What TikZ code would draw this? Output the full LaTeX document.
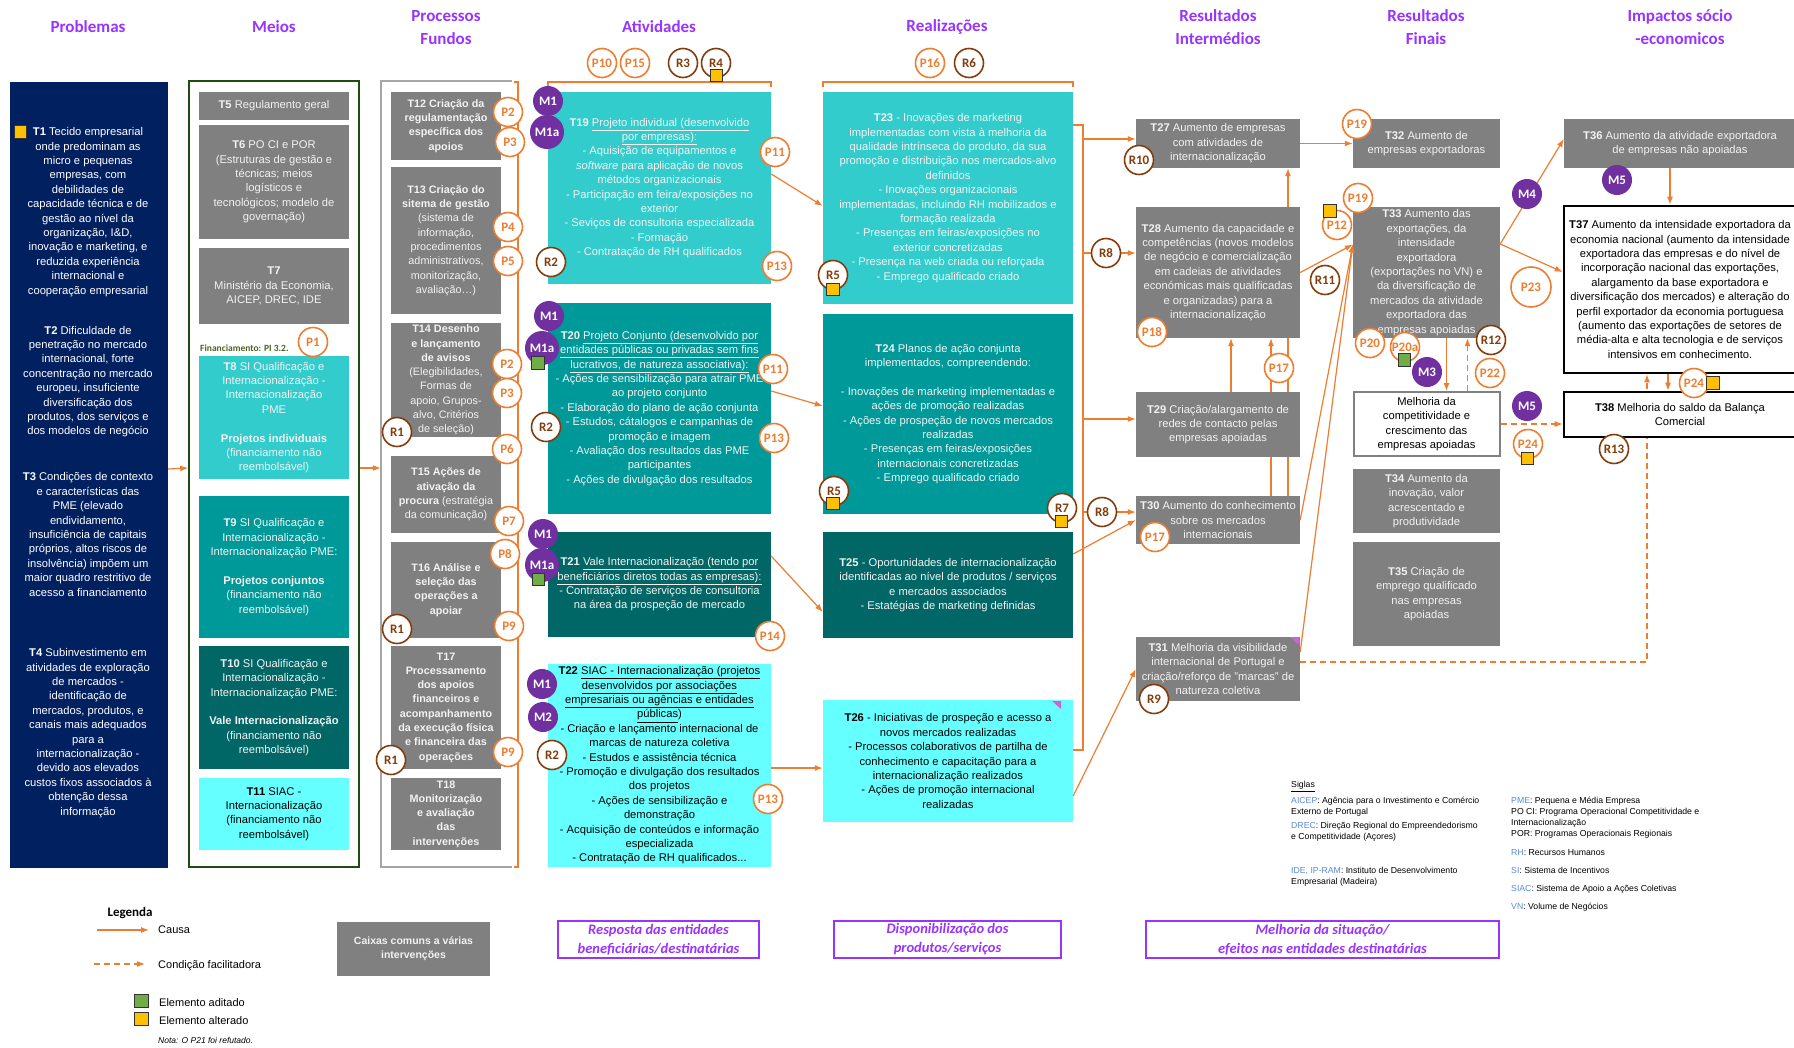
\documentclass[tikz,border=0pt]{standalone}
\usepackage{fontspec}
\setmainfont{Liberation Sans}
\newfontfamily\calib{Carlito}
\usetikzlibrary{arrows.meta}
\pgfdeclarelayer{bg}
\pgfsetlayers{bg,main}

\definecolor{navy}{HTML}{002060}
\definecolor{boxgray}{HTML}{808080}
\definecolor{boxtext}{HTML}{F2F2F2}
\definecolor{tealA}{HTML}{33CCCC}
\definecolor{tealB}{HTML}{009999}
\definecolor{tealC}{HTML}{006666}
\definecolor{cyanD}{HTML}{66FFFF}
\definecolor{orng}{HTML}{ED7D31}
\definecolor{brwn}{HTML}{843C0C}
\definecolor{purp}{HTML}{7030A0}
\definecolor{violet9}{HTML}{9933FF}
\definecolor{yel}{HTML}{FFC000}
\definecolor{grn}{HTML}{70AD47}
\definecolor{frameg}{HTML}{1E4D14}
\definecolor{frameq}{HTML}{A6A6A6}
\definecolor{fingreen}{HTML}{4F6228}
\definecolor{sigblue}{HTML}{5B8BD9}
\definecolor{cmark}{HTML}{CC66CC}

\tikzset{
  hdr/.style={text=violet9,font=\calib\bfseries\fontsize{17}{23}\selectfont,align=center,inner sep=0pt},
  tbox/.style={inner sep=0pt,align=center,font=\fontsize{11.2}{14.4}\selectfont},
  graybox/.style={tbox,fill=boxgray,text=boxtext},
  procbox/.style={graybox,font=\bfseries\fontsize{10.8}{14.3}\selectfont},
  boxA/.style={tbox,fill=tealA,text=boxtext},
  boxB/.style={tbox,fill=tealB,text=boxtext},
  boxC/.style={tbox,fill=tealC,text=boxtext},
  boxD/.style={tbox,fill=cyanD,text=black},
  impbox/.style={tbox,draw=black,line width=2.6pt,fill=white,text=black},
  pc/.style={circle,draw=orng,line width=1.6pt,fill=white,text=orng,
    font=\calib\bfseries\fontsize{13}{13}\selectfont,minimum size=29pt,inner sep=0pt},
  rc/.style={pc,draw=brwn,text=brwn},
  mc/.style={circle,fill=purp,text=white,font=\calib\bfseries\fontsize{13}{13}\selectfont,
    minimum size=30pt,inner sep=0pt},
  mca/.style={mc,minimum size=34pt},
  altsq/.style={draw=black!80,line width=0.8pt,fill=yel,minimum size=12.5pt,inner sep=0pt},
  addsq/.style={altsq,fill=grn},
  causa/.style={draw=orng,line width=1.2pt,-{Latex[length=8pt,width=6pt]}},
  cond/.style={causa,dash pattern=on 6pt off 4pt},
  bline/.style={draw=orng,line width=2pt},
  goal/.style={draw=violet9,line width=2pt,inner sep=0pt,text=violet9,align=center,
    font=\calib\bfseries\itshape\fontsize{14.5}{19}\selectfont},
  sigla/.style={inner sep=0pt,align=left,anchor=north west,font=\fontsize{8.7}{11}\selectfont},
  legtext/.style={anchor=west,inner sep=0pt,font=\fontsize{11}{13}\selectfont}
}

\begin{document}
\begin{tikzpicture}[x=1pt,y=-1pt]
\useasboundingbox (0,0) rectangle (1794,1047);

\node[hdr] (hprob) at (88,27) {Problemas};
\node[hdr] (hmeios) at (274,27) {Meios};
\node[hdr] (hproc) at (446,27.5) {Processos\\Fundos};
\node[hdr] (hativ) at (659,27) {Atividades};
\node[hdr] (hreal) at (947,27) {Realizações};
\node[hdr] (hri) at (1218,27.5) {Resultados\\Intermédios};
\node[hdr] (hrf) at (1426,27.5) {Resultados\\Finais};
\node[hdr] (himp) at (1680,27.5) {Impactos sócio\\-economicos};

\node[fill=navy,inner sep=0pt,minimum width=158pt,minimum height=786pt] (prob) at (89,475) {};
\node[tbox,text=white] (t1) at (88,212) {\textbf{T1} Tecido empresarial\\onde predominam as\\micro e pequenas\\empresas, com\\debilidades de\\capacidade técnica e de\\gestão ao nível da\\organização, I\&D,\\inovação e marketing, e\\reduzida experiência\\internacional e\\cooperação empresarial};
\node[tbox,text=white] (t2) at (88,381.5) {\textbf{T2} Dificuldade de\\penetração no mercado\\internacional, forte\\concentração no mercado\\europeu, insuficiente\\diversificação dos\\produtos, dos serviços e\\dos modelos de negócio};
\node[tbox,text=white] (t3) at (88,534.5) {\textbf{T3} Condições de contexto\\e características das\\PME (elevado\\endividamento,\\insuficiência de capitais\\próprios, altos riscos de\\insolvência) impõem um\\maior quadro restritivo de\\acesso a financiamento};
\node[tbox,text=white] (t4) at (88,733) {\textbf{T4} Subinvestimento em\\atividades de exploração\\de mercados -\\identificação de\\mercados, produtos, e\\canais mais adequados\\para a\\internacionalização -\\devido aos elevados\\custos fixos associados à\\obtenção dessa\\informação};

\node[draw=frameg,line width=1.5pt,fill=white,inner sep=0pt,minimum width=170pt,minimum height=786pt] (meios) at (274,474) {};
\node[graybox,minimum width=150pt,minimum height=28pt] (t5) at (274,106) {\textbf{T5} Regulamento geral};
\node[graybox,minimum width=150pt,minimum height=114pt] (t6) at (274,182) {\textbf{T6} PO CI e POR\\(Estruturas de gestão e\\técnicas; meios\\logísticos e\\tecnológicos; modelo de\\governação)};
\node[graybox,minimum width=150pt,minimum height=76pt] (t7) at (274,286) {\textbf{T7}\\Ministério da Economia,\\AICEP, DREC, IDE};
\node[anchor=west,inner sep=0pt,text=fingreen,font=\calib\bfseries\fontsize{9.5}{10}\selectfont] (fin) at (200,348) {Financiamento: PI 3.2.};
\node[boxA,minimum width=150pt,minimum height=123pt] (t8) at (274,417.5) {\textbf{T8} SI Qualificação e\\Internacionalização -\\Internacionalização\\PME\\[14.4pt]\textbf{Projetos individuais}\\(financiamento não\\reembolsável)};
\node[boxB,minimum width=150pt,minimum height=142pt] (t9) at (274,567) {\textbf{T9} SI Qualificação e\\Internacionalização -\\Internacionalização PME:\\[14.4pt]\textbf{Projetos conjuntos}\\(financiamento não\\reembolsável)};
\node[boxC,minimum width=150pt,minimum height=123pt] (t10) at (274,707.5) {\textbf{T10} SI Qualificação e\\Internacionalização -\\Internacionalização PME:\\[14.4pt]\textbf{Vale Internacionalização}\\(financiamento não\\reembolsável)};
\node[boxD,minimum width=150pt,minimum height=72pt] (t11) at (274,814) {\textbf{T11} SIAC -\\Internacionalização\\(financiamento não\\reembolsável)};

\node[inner sep=0pt,minimum width=131pt,minimum height=786pt] (proc) at (446.5,474) {};
\draw[draw=frameq,line width=1.5pt] (proc.north east) -- (proc.north west) -- (proc.south west) -- (proc.south east);
\draw[bline] (514,82) -- (518,82) -- (518,867) -- (514,867);
\node[procbox,minimum width=110pt,minimum height=68pt] (t12) at (446,126) {T12 Criação da\\regulamentação\\específica dos\\apoios};
\node[procbox,minimum width=110pt,minimum height=147pt] (t13) at (446,240.5) {T13 Criação do\\sitema de gestão\\\mdseries(sistema de\\\mdseries informação,\\\mdseries procedimentos\\\mdseries administrativos,\\\mdseries monitorização,\\\mdseries avaliação…)};
\node[procbox,minimum width=110pt,minimum height=114pt] (t14) at (446,380) {T14 Desenho\\e lançamento\\de avisos\\\mdseries(Elegibilidades,\\\mdseries Formas de\\\mdseries apoio, Grupos-\\\mdseries alvo, Critérios\\\mdseries de seleção)};
\node[procbox,minimum width=110pt,minimum height=77pt] (t15) at (446,494.5) {T15 Ações de\\ativação da\\procura \mdseries(estratégia\\\mdseries da comunicação)};
\node[procbox,minimum width=110pt,minimum height=96pt] (t16) at (446,590) {T16 Análise e\\seleção das\\operações a\\apoiar};
\node[procbox,minimum width=110pt,minimum height=123pt] (t17) at (446,707.5) {T17\\Processamento\\dos apoios\\financeiros e\\acompanhamento\\da execução física\\e financeira das\\operações};
\node[procbox,minimum width=110pt,minimum height=72pt] (t18) at (446,814) {T18\\Monitorização\\e avaliação\\das\\intervenções};

\draw[bline] (548,87) -- (548,82) -- (771,82) -- (771,87);
\node[boxA,minimum width=223pt,minimum height=192pt] (t19) at (659.5,188) {\textbf{T19} \underline{Projeto individual (desenvolvido}\\\underline{por empresas):}\\- Aquisição de equipamentos e\\\textit{software} para aplicação de novos\\métodos organizacionais\\- Participação em feira/exposições no\\exterior\\- Seviços de consultoria especializada\\- Formação\\- Contratação de RH qualificados};
\node[boxB,minimum width=223pt,minimum height=211pt] (t20) at (659.5,408.5) {\textbf{T20} \underline{Projeto Conjunto (desenvolvido por}\\\underline{entidades públicas ou privadas sem fins}\\\underline{lucrativos, de natureza associativa):}\\- Ações de sensibilização para atrair PME\\ao projeto conjunto\\- Elaboração do plano de ação conjunta\\- Estudos, cátalogos e campanhas de\\promoção e imagem\\- Avaliação dos resultados das PME\\participantes\\- Ações de divulgação dos resultados};
\node[boxC,minimum width=223pt,minimum height=105pt] (t21) at (659.5,584.5) {\textbf{T21} \underline{Vale Internacionalização (tendo por}\\\underline{beneficiários diretos todas as empresas):}\\- Contratação de serviços de consultoria\\na área da prospeção de mercado};
\node[boxD,minimum width=223pt,minimum height=203pt] (t22) at (659.5,765.5) {\textbf{T22} \underline{SIAC - Internacionalização (projetos}\\\underline{desenvolvidos por associações}\\\underline{empresariais ou agências e entidades}\\\underline{públicas})\\- Criação e lançamento internacional de\\marcas de natureza coletiva\\- Estudos e assistência técnica\\- Promoção e divulgação dos resultados\\dos projetos\\- Ações de sensibilização e\\demonstração\\- Acquisição de conteúdos e informação\\especializada\\- Contratação de RH qualificados...};

\draw[bline] (823,87) -- (823,82) -- (1073,82) -- (1073,87);
\node[boxA,minimum width=250pt,minimum height=212pt] (t23) at (948,198) {\textbf{T23} - Inovações de marketing\\implementadas com vista à melhoria da\\qualidade intrínseca do produto, da sua\\promoção e distribuição nos mercados-alvo\\definidos\\- Inovações organizacionais\\implementadas, incluindo RH mobilizados e\\formação realizada\\- Presenças em feiras/exposições no\\exterior concretizadas\\- Presença na web criada ou reforçada\\- Emprego qualificado criado};
\node[boxB,minimum width=250pt,minimum height=200pt] (t24) at (948,414) {\textbf{T24} Planos de ação conjunta\\implementados, compreendendo:\\[14.4pt]- Inovações de marketing implementadas e\\ações de promoção realizadas\\- Ações de prospeção de novos mercados\\realizadas\\- Presenças em feiras/exposições\\internacionais concretizadas\\- Emprego qualificado criado};
\node[boxC,minimum width=250pt,minimum height=106pt] (t25) at (948,585) {\textbf{T25} - Oportunidades de internacionalização\\identificadas ao nível de produtos / serviços\\e mercados associados\\- Estatégias de marketing definidas};
\node[boxD,minimum width=250pt,minimum height=122pt] (t26) at (948,761) {\textbf{T26} - Iniciativas de prospeção e acesso a\\novos mercados realizadas\\- Processos colaborativos de partilha de\\conhecimento e capacitação para a\\internacionalização realizados\\- Ações de promoção internacional\\realizadas};
\fill[cmark] (1052,701) -- (1061,701) -- (1061,709) -- cycle;
\draw[bline] (1073,125) -- (1083,125) -- (1083,750) -- (1073,750);
\coordinate (rbr) at (1083,125);

\node[graybox,minimum width=164pt,minimum height=49pt] (t27) at (1218,143.5) {\textbf{T27} Aumento de empresas\\com atividades de\\internacionalização};
\node[graybox,minimum width=164pt,minimum height=131pt] (t28) at (1218,272.5) {\textbf{T28} Aumento da capacidade e\\competências (novos modelos\\de negócio e comercialização\\em cadeias de atividades\\económicas mais qualificadas\\e organizadas) para a\\internacionalização};
\node[graybox,minimum width=164pt,minimum height=65pt] (t29) at (1218,424.5) {\textbf{T29} Criação/alargamento de\\redes de contacto pelas\\empresas apoiadas};
\node[graybox,minimum width=164pt,minimum height=48pt] (t30) at (1218,520) {\textbf{T30} Aumento do conhecimento\\sobre os mercados\\internacionais};
\node[graybox,minimum width=164pt,minimum height=64pt] (t31) at (1218,669) {\textbf{T31} Melhoria da visibilidade\\internacional de Portugal e\\criação/reforço de "marcas" de\\natureza coletiva};
\fill[cmark] (1290,637) -- (1299,637) -- (1299,645) -- cycle;

\node[graybox,minimum width=147pt,minimum height=49pt] (t32) at (1426.5,143.5) {\textbf{T32} Aumento de\\empresas exportadoras};
\node[graybox,minimum width=147pt,minimum height=131pt] (t33) at (1426.5,272.5) {\textbf{T33} Aumento das\\exportações, da\\intensidade\\exportadora\\(exportações no VN) e\\da diversificação de\\mercados da atividade\\exportadora das\\empresas apoiadas};
\node[tbox,draw=boxgray,line width=2pt,fill=white,text=black,minimum width=146pt,minimum height=64pt] (melh) at (1426.5,424) {Melhoria da\\competitividade e\\crescimento das\\empresas apoiadas};
\node[graybox,minimum width=147pt,minimum height=64pt] (t34) at (1426.5,501) {\textbf{T34} Aumento da\\inovação, valor\\acrescentado e\\produtividade};
\node[graybox,minimum width=147pt,minimum height=104pt] (t35) at (1426.5,594) {\textbf{T35} Criação de\\emprego qualificado\\nas empresas\\apoiadas};

\node[graybox,minimum width=232pt,minimum height=49pt] (t36) at (1680,143.5) {\textbf{T36} Aumento da atividade exportadora\\de empresas não apoiadas};
\node[impbox,minimum width=232pt,minimum height=167pt] (t37) at (1680,289.5) {\textbf{T37} Aumento da intensidade exportadora da\\economia nacional (aumento da intensidade\\exportadora das empresas e do nível de\\incorporação nacional das exportações,\\alargamento da base exportadora e\\diversificação dos mercados) e alteração do\\perfil exportador da economia portuguesa\\(aumento das exportações de setores de\\média-alta e alta tecnologia e de serviços\\intensivos em conhecimento.};
\node[impbox,minimum width=232pt,minimum height=45pt] (t38) at (1680,414.5) {\textbf{T38} Melhoria do saldo da Balança\\Comercial};

\draw[causa] ([yshift=6pt]prob.east) -- ([yshift=6pt]meios.west);
\draw[causa] ([yshift=6pt]meios.east) -- ([yshift=6pt]proc.west);
\draw[causa] ([yshift=14pt]t19.east) -- ([yshift=-8pt]t23.west);
\draw[causa] ([yshift=17.5pt]t20.east) -- ([yshift=8pt]t24.west);
\draw[causa] ([yshift=28.5pt]t21.east) -- ([yshift=-27pt]t25.west);
\draw[causa] ([yshift=-2.5pt]t22.east) -- ([yshift=-7pt]t26.west);
\coordinate (a27) at ([yshift=4.5pt]t27.west);
\coordinate (a28) at ([yshift=19.5pt]t28.west);
\coordinate (a29) at ([yshift=5.5pt]t29.west);
\coordinate (a30) at ([yshift=8pt]t30.west);
\draw[causa] (rbr |- a27) -- (a27);
\draw[causa] (rbr |- a28) -- (a28);
\draw[causa] (rbr |- a29) -- (a29);
\draw[causa] (rbr |- a30) -- (a30);
\draw[causa] ([yshift=31pt]t25.east) -- (t30.west);
\draw[causa] ([yshift=-35pt]t26.east) -- (t31.west);
\coordinate (c33) at ([yshift=28pt]t33.west);
\coordinate (e33) at ([yshift=28.5pt]t33.east);
\draw[causa] (t27.east) -- (t32.west);
\draw[causa] (t28.east) -- (c33);
\draw[causa] (t30.east) -- (c33);
\draw[causa] ([yshift=17pt]t31.east) -- (c33);
\draw[causa] (e33) -- ([yshift=4.5pt]t36.west);
\draw[causa] (e33) -- ([yshift=17.5pt]t37.west);
\draw[causa] ([xshift=-10pt]t36.south) -- ([xshift=-10pt]t37.north);
\draw[causa] ([xshift=-12pt]t37.south) -- ([xshift=-12pt]t38.north);
\draw[causa] ([xshift=20pt]t33.south) -- ([xshift=20pt]melh.north);
\draw[cond] ([xshift=41pt]melh.north) -- ([xshift=41pt]t33.south);
\draw[cond] (melh.east) -- (t38.west |- melh.east);
\begin{pgfonlayer}{bg}
\fill[white] (0,0) rectangle (1794,1047);
\draw[causa] ([xshift=70pt]t30.north) -- ([xshift=70pt]t27.south);
\draw[causa] ([xshift=53pt]t30.north) -- ([xshift=53pt]t28.south);
\draw[causa] ([xshift=13pt]t29.north) -- ([xshift=13pt]t28.south);
\draw[cond] ([yshift=7pt]t31.east) -| ([xshift=-33pt]t37.south);
\end{pgfonlayer}

\node[altsq] (s1) at (20.5,132) {};
\node[pc] (p1) at (313,342) {P1};
\node[pc] (p2a) at (508,112) {P2};
\node[pc] (p3a) at (510,142) {P3};
\node[pc] (p4) at (508,227) {P4};
\node[pc] (p5) at (508,261) {P5};
\node[pc] (p2b) at (507,364) {P2};
\node[pc] (p3b) at (507,393) {P3};
\node[pc] (p6) at (507,449) {P6};
\node[pc] (p7) at (509,521) {P7};
\node[pc] (p8) at (505,554) {P8};
\node[pc] (p9a) at (509,626) {P9};
\node[pc] (p9b) at (508,752) {P9};
\node[rc] (r1a) at (397,432) {R1};
\node[rc] (r1b) at (397,629) {R1};
\node[rc] (r1c) at (391,760) {R1};
\node[pc] (p10) at (602,63) {P10};
\node[pc] (p15) at (635,63) {P15};
\node[rc] (r3) at (683,63) {R3};
\node[rc] (r4) at (716,63) {R4};
\node[altsq] (s4) at (716.5,75.5) {};
\node[mc] (m1a) at (548,101) {M1};
\node[mca] (m1aa) at (547,132) {M1a};
\node[pc] (p11a) at (775,152) {P11};
\node[rc] (r2a) at (551,262) {R2};
\node[pc] (p13a) at (777,266) {P13};
\node[mc] (m1b) at (549,316) {M1};
\node[mca] (m1ab) at (542,348) {M1a};
\node[addsq] (s20) at (538,363) {};
\node[pc] (p11b) at (773,369) {P11};
\node[rc] (r2b) at (546,427) {R2};
\node[pc] (p13b) at (774,438) {P13};
\node[mc] (m1c) at (543,534) {M1};
\node[mca] (m1ac) at (542,565) {M1a};
\node[addsq] (s21) at (538.5,579.5) {};
\node[pc] (p14) at (770,636) {P14};
\node[mc] (m1d) at (542,684) {M1};
\node[mc] (m2) at (543,717) {M2};
\node[rc] (r2c) at (552,755) {R2};
\node[pc] (p13c) at (768,799) {P13};
\node[pc] (p16) at (930,63) {P16};
\node[rc] (r6) at (969,63) {R6};
\node[rc] (r5a) at (833,275) {R5};
\node[altsq] (s5a) at (833,289.5) {};
\node[rc] (r5b) at (834,491) {R5};
\node[altsq] (s5b) at (833,503.5) {};
\node[rc] (r7) at (1062,508) {R7};
\node[altsq] (s7) at (1061.5,521.5) {};
\node[rc] (r8a) at (1106,253) {R8};
\node[rc] (r8b) at (1102,512) {R8};
\node[rc] (r10) at (1139,160) {R10};
\node[pc] (p18) at (1152,332) {P18};
\node[pc] (p17a) at (1279,368) {P17};
\node[pc] (p17b) at (1155,537) {P17};
\node[rc] (r9) at (1154,699) {R9};
\node[rc] (r11) at (1325,280) {R11};
\node[pc] (p12) at (1337,225) {P12};
\node[altsq] (s12) at (1330,211) {};
\node[pc] (p19a) at (1357,124) {P19};
\node[pc] (p19b) at (1358,198) {P19};
\node[pc] (p20) at (1370,343) {P20};
\node[pc] (p20a) at (1405,347) {P20a};
\node[addsq] (s20a) at (1404.5,360) {};
\node[mc] (m3) at (1427,372) {M3};
\node[rc] (r12) at (1491,340) {R12};
\node[pc] (p22) at (1490,373) {P22};
\node[mc] (m4) at (1527,194) {M4};
\node[pc,minimum size=40pt] (p23) at (1531,287) {P23};
\node[mc] (m5a) at (1527,406) {M5};
\node[pc] (p24a) at (1528,444) {P24};
\node[altsq] (s24a) at (1527.5,458.5) {};
\node[mc] (m5b) at (1617,180) {M5};
\node[pc] (p24b) at (1694,383) {P24};
\node[altsq] (s24b) at (1713,383) {};
\node[rc] (r13) at (1614,449) {R13};

\node[font=\calib\bfseries\fontsize{13}{13}\selectfont,inner sep=0pt] (leg) at (130,913) {Legenda};
\node[legtext] (lcausa) at (158,930) {Causa};
\node[legtext] (lcond) at (158,966) {Condição facilitadora};
\node[legtext] (ladd) at (159,1003) {Elemento aditado};
\node[legtext] (lalt) at (159,1021) {Elemento alterado};
\node[legtext,font=\itshape\fontsize{8.5}{10}\selectfont] (nota) at (158,1040) {Nota: O P21 foi refutado.};
\draw[causa] ([xshift=-61pt]lcausa.west) -- ([xshift=-9pt]lcausa.west);
\draw[cond] ([xshift=-64pt,yshift=2pt]lcond.west) -- ([xshift=-13pt,yshift=2pt]lcond.west);
\node[addsq,minimum size=13.5pt] (sadd) at (141.5,1001) {};
\node[altsq,minimum size=13.5pt] (salt) at (141.5,1019) {};

\node[graybox,font=\bfseries\fontsize{10.5}{14}\selectfont,minimum width=153pt,minimum height=54pt] (caixas) at (413.5,949) {Caixas comuns a várias\\intervenções};
\node[goal,minimum width=201pt,minimum height=37pt] (gresp) at (658.5,939.5) {Resposta das entidades\\beneficiárias/destinatárias};
\node[goal,minimum width=227pt,minimum height=37pt] (gdisp) at (947.5,939.5) {Disponibilização dos\\produtos/serviços};
\node[goal,minimum width=353pt,minimum height=37pt] (gmel) at (1322.5,939.5) {Melhoria da situação/\\efeitos nas entidades destinatárias};

\node[sigla] (sig0) at (1291,781) {\underline{Siglas}};
\node[sigla] (sig1) at (1291,797) {{\color{sigblue}AICEP}: Agência para o Investimento e Comércio\\Externo de Portugal};
\node[sigla] (sig2) at (1291,822) {{\color{sigblue}DREC}: Direção Regional do Empreendedorismo\\e Competitividade (Açores)};
\node[sigla] (sig3) at (1291,867) {{\color{sigblue}IDE, IP-RAM}: Instituto de Desenvolvimento\\Empresarial (Madeira)};
\node[sigla] (sig4) at (1511,797) {{\color{sigblue}PME}: Pequena e Média Empresa\\PO CI: Programa Operacional Competitividade e\\Internacionalização\\POR: Programas Operacionais Regionais};
\node[sigla] (sig5) at (1511,849) {{\color{sigblue}RH}: Recursos Humanos};
\node[sigla] (sig6) at (1511,867) {{\color{sigblue}SI}: Sistema de Incentivos};
\node[sigla] (sig7) at (1511,885) {{\color{sigblue}SIAC}: Sistema de Apoio a Ações Coletivas};
\node[sigla] (sig8) at (1511,903) {{\color{sigblue}VN}: Volume de Negócios};
\end{tikzpicture}
\end{document}
